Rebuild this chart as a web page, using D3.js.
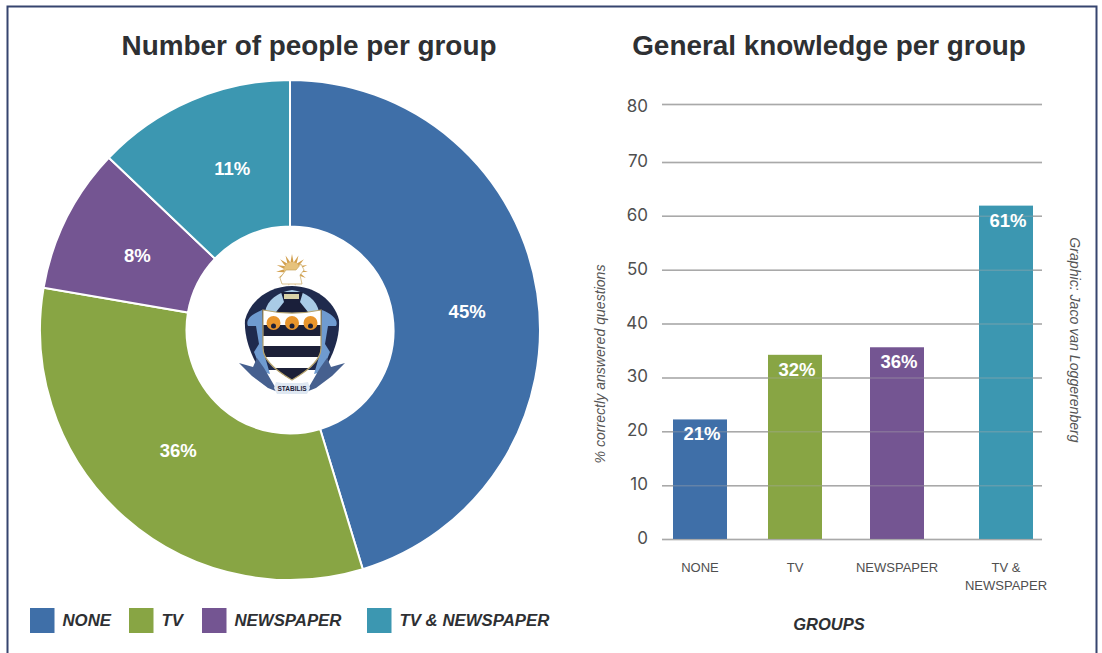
<!DOCTYPE html>
<html>
<head>
<meta charset="utf-8">
<script src="https://cdnjs.cloudflare.com/ajax/libs/d3/7.8.5/d3.min.js"></script>
<style>
  html, body { margin: 0; padding: 0; background: #fff; }
  svg { display: block; }
  text { font-family: "Liberation Sans", sans-serif; }
</style>
</head>
<body>
<svg id="chart" width="1102" height="653"></svg>
<script>
var groups = ['NONE', 'TV', 'NEWSPAPER', 'TV & NEWSPAPER'];
var groupColors = ['#3f6fa8', '#88a544', '#745592', '#3c97b1'];

// The slices in the picture do not follow their printed labels, so keep both.
var pieShares = [45.3, 32.4, 9.4, 12.9];
var pieLabels = ['45%', '36%', '8%', '11%'];

var barValues = [22.2, 34.2, 35.6, 61.9];
var barLabels = ['21%', '32%', '36%', '61%'];
var yTicks = [0, 10, 20, 30, 40, 50, 60, 70, 80];

var svg = d3.select('#chart');

// Page frame: open at the bottom
svg.append('path')
  .attr('d', 'M7.5,653V6.5H1096.5V653')
  .attr('fill', 'none')
  .attr('stroke', '#36456f')
  .attr('stroke-width', 2);

function drawTitle(label, x) {
  svg.append('text')
    .attr('x', x)
    .attr('y', 55)
    .attr('text-anchor', 'middle')
    .attr('font-size', 27.9)
    .attr('font-weight', 'bold')
    .attr('fill', '#2e3033')
    .text(label);
}
drawTitle('Number of people per group', 309);
drawTitle('General knowledge per group', 829);

/* ---- donut ---- */
var donut = svg.append('g').attr('transform', 'translate(290,330)');
var pie = d3.pie().sort(null).value(function(d) { return d; });
var arc = d3.arc().innerRadius(103.5).outerRadius(250);
var labelArc = d3.arc().innerRadius(172).outerRadius(172);
var slices = pie(pieShares);
// Labels do not sit exactly on the centroids
var labelNudge = [[7, 7], [2, -9], [1, 2], [10, -4]];

donut.selectAll('path.slice')
  .data(slices)
  .enter().append('path')
    .attr('class', 'slice')
    .attr('d', arc)
    .attr('fill', function(d, i) { return groupColors[i]; })
    .attr('stroke', '#fff')
    .attr('stroke-width', 2);

donut.selectAll('text.share')
  .data(slices)
  .enter().append('text')
    .attr('class', 'share')
    .attr('transform', function(d, i) {
      var c = labelArc.centroid(d);
      return 'translate(' + (c[0] + labelNudge[i][0]) + ',' + (c[1] + labelNudge[i][1]) + ')';
    })
    .attr('dy', '0.36em')
    .attr('text-anchor', 'middle')
    .attr('font-size', 18.5)
    .attr('font-weight', 'bold')
    .attr('fill', '#fff')
    .text(function(d, i) { return pieLabels[i]; });

/* Crest in the middle of the donut, roughly traced */
function drawCrest() {
  var c = svg.append('g').attr('transform', 'translate(292,330)');
  // sun rays and horse
  d3.range(0, 360, 24).forEach(function(a) {
    c.append('path')
      .attr('d', 'M-3,0L0,-16L3,0Z')
      .attr('transform', 'translate(0,-60) rotate(' + a + ')')
      .attr('fill', '#d2a04e');
  });
  c.append('circle').attr('cx', 0).attr('cy', -60).attr('r', 8).attr('fill', '#e6c27c');
  c.append('path')
    .attr('d', 'M-12,-52L-6,-60L4,-60L9,-66L12,-60L8,-55L10,-46L-10,-46Z')
    .attr('fill', '#fff').attr('stroke', '#c9a860').attr('stroke-width', 0.7);
  // mantling
  c.append('path')
    .attr('d', 'M0,-44C-22,-44 -42,-30 -47,-10C-48,6 -42,24 -32,40L32,40C42,24 48,6 47,-10C42,-30 22,-44 0,-44Z')
    .attr('fill', '#1f2a4d');
  c.append('path')
    .attr('d', 'M0,-40C-14,-38 -25,-30 -27,-18L27,-18C25,-30 14,-38 0,-40Z')
    .attr('fill', '#a9cbe6');
  c.append('path')
    .attr('d', 'M-30,-20C-40,-16 -47,-10 -44,-4L-36,-4L-33,14L-38,22L-30,42L-22,44L-29,20Z M30,-20C40,-16 47,-10 44,-4L36,-4L33,14L38,22L30,42L22,44L29,20Z')
    .attr('fill', '#6f9bd0');
  // helmet
  c.append('path')
    .attr('d', 'M-11,-38L11,-38L8,-28L16,-18L-16,-18L-8,-28Z')
    .attr('fill', '#1a1f3a');
  c.append('rect').attr('x', -8).attr('y', -36).attr('width', 15).attr('height', 5).attr('fill', '#d8d2a8');
  // shield
  var shieldPath = 'M-29,-20C-10,-16 10,-16 29,-20L29,18C29,32 12,43 0,50C-12,43 -29,32 -29,18Z';
  c.append('clipPath').attr('id', 'shieldClip').append('path').attr('d', shieldPath);
  var s = c.append('g').attr('clip-path', 'url(#shieldClip)');
  s.append('rect').attr('x', -30).attr('y', -21).attr('width', 60).attr('height', 73).attr('fill', '#fff');
  s.append('rect').attr('x', -30).attr('y', -5).attr('width', 60).attr('height', 11).attr('fill', '#1c2038');
  s.append('rect').attr('x', -30).attr('y', 16).attr('width', 60).attr('height', 11).attr('fill', '#1c2038');
  s.append('rect').attr('x', -30).attr('y', 38).attr('width', 60).attr('height', 13).attr('fill', '#1c2038');
  [-18.5, 0, 18.5].forEach(function(x) {
    c.append('circle').attr('cx', x).attr('cy', -7).attr('r', 7).attr('fill', '#e8952c');
    c.append('circle').attr('cx', x).attr('cy', -4).attr('r', 2.5).attr('fill', '#1c2038');
  });
  c.append('path').attr('d', shieldPath)
    .attr('fill', 'none').attr('stroke', '#b7a46e').attr('stroke-width', 1.2);
  // supporters and motto
  c.append('path')
    .attr('d', 'M-53,33L-39,37L-35,28L-28,38L-14,62L-24,58L-40,46Z M53,33L39,37L35,28L28,38L14,62L24,58L40,46Z')
    .attr('fill', '#46608f');
  c.append('path')
    .attr('d', 'M-16,52L-10,53L10,53L16,52L18,58L15,64L-15,64L-18,58Z')
    .attr('fill', '#dfe8f2');
  c.append('text')
    .attr('y', 61)
    .attr('text-anchor', 'middle')
    .attr('font-size', 6.5)
    .attr('font-weight', 'bold')
    .attr('fill', '#1c2038')
    .text('STABILIS');
}
drawCrest();

/* ---- legend ---- */
var legendSwatchX = d3.scaleOrdinal().domain(groups).range([30, 129, 202, 367]);
var legendItems = svg.selectAll('g.legend')
  .data(groups)
  .enter().append('g')
    .attr('class', 'legend')
    .attr('transform', function(d) { return 'translate(' + legendSwatchX(d) + ',608)'; });
legendItems.append('rect')
  .attr('width', 24.5)
  .attr('height', 25)
  .attr('fill', function(d, i) { return groupColors[i]; });
legendItems.append('text')
  .attr('x', 32.5)
  .attr('y', 18)
  .attr('font-size', 16.8)
  .attr('font-weight', 'bold')
  .attr('font-style', 'italic')
  .attr('fill', '#2e3033')
  .text(function(d) { return d; });

/* ---- bars ---- */
// The top gridline sits a little further up than the even spacing below it
var y = d3.scaleLinear().domain([0, 70, 80]).range([539, 162, 104]);
// The bars are not evenly spaced in the picture
var x = d3.scaleOrdinal().domain(groups).range([700, 795, 897, 1006]);
var barWidth = 54;

function drawGrid(opacity) {
  svg.append('g')
    .attr('transform', 'translate(662,0)')
    .call(d3.axisLeft(y).tickValues(yTicks).tickSize(-380).tickFormat(''))
    .call(function(g) { g.select('.domain').remove(); })
    .selectAll('line')
      .attr('stroke', '#a9a9a9')
      .attr('stroke-opacity', opacity)
      .attr('stroke-width', 1.5);
}
drawGrid(1);

svg.selectAll('rect.bar')
  .data(barValues)
  .enter().append('rect')
    .attr('class', 'bar')
    .attr('x', function(d, i) { return x(groups[i]) - barWidth / 2; })
    .attr('y', function(d) { return y(d); })
    .attr('width', barWidth)
    .attr('height', function(d) { return y(0) - y(d); })
    .attr('fill', function(d, i) { return groupColors[i]; });

drawGrid(0.35);

svg.selectAll('text.barLabel')
  .data(barValues)
  .enter().append('text')
    .attr('class', 'barLabel')
    .attr('x', function(d, i) { return x(groups[i]) + 2; })
    .attr('y', function(d) { return y(d) + 21; })
    .attr('text-anchor', 'middle')
    .attr('font-size', 18.5)
    .attr('font-weight', 'bold')
    .attr('fill', '#fff')
    .text(function(d, i) { return barLabels[i]; });

// y tick labels
var yAxis = svg.append('g')
  .attr('transform', 'translate(648,0)')
  .call(d3.axisLeft(y).tickValues(yTicks).tickSize(0).tickPadding(0));
yAxis.select('.domain').remove();
yAxis.selectAll('text')
  .attr('y', function(d) { return d === 80 ? 2 : -1; })
  .attr('font-size', 17)
  .attr('fill', '#4f4f4f')
  .style('font-family', 'Inter, sans-serif');

// category labels
var categoryLines = [['NONE'], ['TV'], ['NEWSPAPER'], ['TV &', 'NEWSPAPER']];
var categories = svg.selectAll('text.category')
  .data(categoryLines)
  .enter().append('text')
    .attr('class', 'category')
    .attr('text-anchor', 'middle')
    .attr('font-size', 13)
    .attr('fill', '#4f4f4f');
categories.selectAll('tspan')
  .data(function(d, i) { return d.map(function(line) { return { line: line, group: groups[i] }; }); })
  .enter().append('tspan')
    .attr('x', function(d) { return x(d.group); })
    .attr('y', function(d, i) { return 572 + i * 18; })
    .text(function(d) { return d.line; });

svg.append('text')
  .attr('x', 829)
  .attr('y', 630)
  .attr('text-anchor', 'middle')
  .attr('font-size', 16.5)
  .attr('font-weight', 'bold')
  .attr('font-style', 'italic')
  .attr('fill', '#2e3033')
  .text('GROUPS');

svg.append('text')
  .attr('transform', 'translate(605,364) rotate(-90)')
  .attr('text-anchor', 'middle')
  .attr('font-size', 14.1)
  .attr('font-style', 'italic')
  .attr('fill', '#555')
  .text('% correctly answered questions');

svg.append('text')
  .attr('transform', 'translate(1070,340) rotate(90)')
  .attr('text-anchor', 'middle')
  .attr('font-size', 14.1)
  .attr('font-style', 'italic')
  .attr('fill', '#555')
  .text('Graphic: Jaco van Loggerenberg');
</script>
</body>
</html>
